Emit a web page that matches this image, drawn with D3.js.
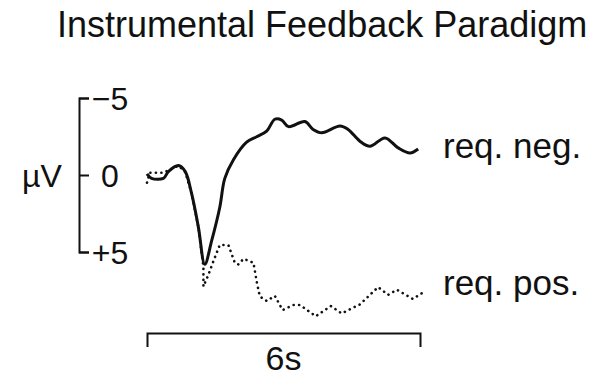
<!doctype html>
<html lang="en">
  <head>
    <meta charset="utf-8">
    <title>Instrumental Feedback Paradigm</title>
    <style>
      body { margin: 0; background: #fff; }
      svg text { font-family: "Liberation Sans", Arial, sans-serif; fill: #111; }
      .axis path, .axis line { stroke: #111; stroke-width: 2; }
    </style>
  </head>
  <body>
    <div id="chart"></div>

    <script src="https://cdn.jsdelivr.net/npm/d3@7"></script>
    <script type="text/javascript">
      // time in s, amplitude in microvolt (negative up)
      const negTime = [0, 0.10, 0.36, 0.47, 0.69, 0.84, 0.98, 1.13, 1.27, 1.42, 1.60, 1.71, 1.90, 2.19, 2.41,
                       2.63, 2.81, 2.96, 3.11, 3.47, 3.65, 3.84, 4.24, 4.42, 4.68, 4.90, 5.23, 5.52, 5.78, 5.96];
      const negValue = [-0.07, 0.22, 0.22, -0.22, -0.61, -0.22, 1.2, 3.4, 5.8, 4.28, 2.09, 0.22, -0.99, -2.13, -2.48,
                        -2.85, -3.62, -3.57, -3.14, -3.47, -2.96, -2.74, -3.18, -2.96, -2.19, -1.86, -2.41, -1.76, -1.43, -1.69];

      const posTime = [0, 0.06, 0.2, 0.35, 0.47, 0.69, 0.84, 0.98, 1.13, 1.24, 1.24, 1.35, 1.46, 1.60, 1.79, 1.93, 2.01, 2.12,
                       2.34, 2.41, 2.48, 2.63, 2.81, 2.98, 3.22, 3.36, 3.71, 4.04, 4.28, 4.68, 5.08, 5.30, 5.49, 5.84, 6.04];
      const posValue = [0.5, -0.15, -0.15, -0.15, -0.3, -0.6, -0.2, 1.2, 3.4, 6.0, 7.24, 6.47, 5.59, 4.54, 4.56, 5.70, 5.81, 5.44,
                        5.70, 6.91, 7.89, 8.18, 7.85, 8.77, 8.44, 8.44, 9.17, 8.51, 8.99, 8.40, 7.28, 7.78, 7.45, 8.05, 7.68];

      const yTicks = [-5, 0, 5];
      const yTickLabels = ["\u22125", "0", "+5"];
      const seriesLabels = ["req. neg.", "req. pos."];
      const timeSpan = [0, 6];
      const timeLabel = "6s";
      const unitLabel = "\u00b5V";
      const title = "Instrumental Feedback Paradigm";

      const w = 601;
      const h = 371;

      const svg = d3.select('#chart')
                    .append('svg')
                    .attr("width", w)
                    .attr("height", h);

      const x = d3.scaleLinear().domain(timeSpan).range([147, 420]);
      const y = d3.scaleLinear().domain([-5, 5]).range([98, 252]);

      // title
      svg.append('text')
        .attr('x', 57)
        .attr('y', 37)
        .attr('font-size', 36)
        .text(title);

      // amplitude bracket
      const yAxis = svg.append('g')
        .attr('class', 'axis')
        .attr('transform', 'translate(79,0)')
        .call(d3.axisRight(y)
                .tickValues(yTicks)
                .tickSize(10)
                .tickSizeOuter(10)
                .tickPadding(0)
                .tickFormat((d, i) => yTickLabels[i]));

      yAxis.selectAll('text')
        .attr('x', 31)
        .attr('dy', '0.36em')
        .attr('text-anchor', 'middle')
        .attr('font-size', 32)
        .attr('font-family', '"Liberation Sans", Arial, sans-serif')
        .attr('fill', '#111');

      svg.append('text')
        .attr('x', 22)
        .attr('y', y(0) + 12)
        .attr('font-size', 32)
        .text(unitLabel);

      // time bracket
      svg.append('g')
        .attr('class', 'axis')
        .attr('transform', 'translate(0,333)')
        .call(d3.axisBottom(x)
                .tickValues([])
                .tickSizeOuter(14));

      svg.append('text')
        .attr('x', x((timeSpan[0] + timeSpan[1]) / 2))
        .attr('y', 370)
        .attr('text-anchor', 'middle')
        .attr('font-size', 34)
        .text(timeLabel);

      const line = d3.line()
        .x(d => x(d[0]))
        .y(d => y(d[1]));

      const negData = d3.zip(negTime, negValue);
      const posData = d3.zip(posTime, posValue);

      svg.append('path')
        .datum(posData)
        .attr('d', line.curve(d3.curveLinear))
        .attr('fill', 'none')
        .attr('stroke', '#111')
        .attr('stroke-width', 2.6)
        .attr('stroke-linecap', 'round')
        .attr('stroke-dasharray', '0.1,5.4');

      svg.append('path')
        .datum(negData)
        .attr('d', line.curve(d3.curveCatmullRom.alpha(0.5)))
        .attr('fill', 'none')
        .attr('stroke', '#111')
        .attr('stroke-width', 3)
        .attr('stroke-linejoin', 'round');

      // series labels
      svg.selectAll('.series-label')
        .data(seriesLabels)
        .enter()
        .append('text')
        .attr('class', 'series-label')
        .attr('x', 443)
        .attr('y', (d, i) => i === 0 ? 158 : 295)
        .attr('font-size', 35)
        .text(d => d);
    </script>
  </body>
</html>
